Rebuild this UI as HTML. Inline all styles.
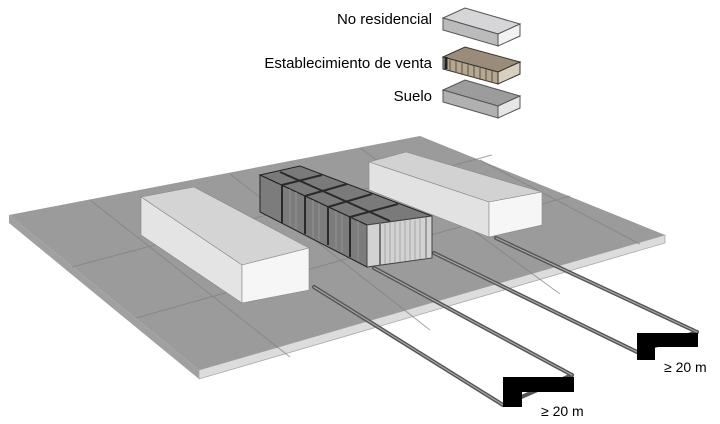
<!DOCTYPE html>
<html><head><meta charset="utf-8"><style>
html,body{margin:0;padding:0;background:#fff;}
svg{display:block}
text{font-family:"Liberation Sans",sans-serif;}
</style></head><body>
<svg width="720" height="424" viewBox="0 0 720 424" xmlns="http://www.w3.org/2000/svg">
<!-- legend -->
<g font-size="15" fill="#000" text-anchor="end">
<text x="432" y="24">No residencial</text>
<text x="432" y="68">Establecimiento de venta</text>
<text x="432" y="101">Suelo</text>
</g>
<polygon points="443,18 465,8 520,24 498,34" fill="#d6d6d8" stroke="#555" stroke-width="1"/>
<polygon points="443,18 498,34 498,46 443,30" fill="#bbb" stroke="#555" stroke-width="1"/>
<polygon points="498,34 520,24 520,36 498,46" fill="#f2f2f2" stroke="#555" stroke-width="1"/>
<polygon points="443,57 465,47 520,62 498,72" fill="#9a8c78" stroke="#333"/>
<polygon points="443,57 498,72 498,84 443,69" fill="#b5a890" stroke="#333"/>
<polygon points="498,72 520,62 520,74 498,84" fill="#d8cfbf" stroke="#333"/>
<g stroke="#6a5c48" stroke-width="1.2">
<line x1="450" y1="60" x2="450" y2="71"/><line x1="456" y1="61" x2="456" y2="73"/><line x1="462" y1="63" x2="462" y2="75"/><line x1="468" y1="64" x2="468" y2="76"/><line x1="474" y1="66" x2="474" y2="78"/><line x1="480" y1="68" x2="480" y2="80"/><line x1="486" y1="69" x2="486" y2="81"/><line x1="492" y1="71" x2="492" y2="83"/>
</g>
<line x1="446" y1="57" x2="446" y2="69" stroke="#222" stroke-width="3"/>
<polygon points="443,90 465,80 520,96 498,106" fill="#9c9c9c" stroke="#555"/>
<polygon points="443,90 498,106 498,118 443,102" fill="#b0b0b0" stroke="#555"/>
<polygon points="498,106 520,96 520,108 498,118" fill="#e6e6e6" stroke="#555"/>

<!-- plate -->
<polygon points="9,215 9,223 199,379 199,370" fill="#a0a0a0"/>
<polygon points="199,370 665,235 665,243 199,379" fill="#dcdcdc" stroke="#aaa" stroke-width="0.8"/>
<polygon points="9,215 420,136 665,235 199,370" fill="#9b9b9b"/>
<g stroke="#7f7f7f" stroke-width="1" opacity="0.7" fill="none">
<line x1="72" y1="267" x2="492" y2="155"/>
<line x1="136" y1="318" x2="570" y2="196"/>
<line x1="90" y1="200" x2="290" y2="357"/>
<line x1="230" y1="174" x2="430" y2="330"/>
<line x1="360" y1="148" x2="560" y2="294"/>
<line x1="480" y1="160" x2="640" y2="244"/>
</g>
<!-- cables -->
<g fill="none" stroke-linecap="round">
<g stroke="#555" stroke-width="4">
<polyline points="314,287 503,405"/>
<polyline points="374,268 572,375"/>
<polyline points="434,253 637,352"/>
<polyline points="496,238 697,332"/>
<polyline points="503,405 572,375"/>
<polyline points="637,352 697,332"/>
</g>
<g stroke="#a8a8a8" stroke-width="1.2">
<polyline points="314,287 503,405"/>
<polyline points="374,268 572,375"/>
<polyline points="434,253 637,352"/>
<polyline points="496,238 697,332"/>
</g>
</g>
<path d="M503,377 H574 V392 H522 V407 H503 Z" fill="#000"/>
<path d="M637,333 H698 V347 H655 V360 H637 Z" fill="#000"/>
<text x="541" y="416" font-size="14">≥ 20 m</text>
<text x="664" y="372" font-size="14">≥ 20 m</text>

<!-- left box -->
<polygon points="141,197 194,187 309,248 242,265" fill="#d4d4d4" stroke="#888" stroke-width="0.6"/>
<polygon points="141,197 242,265 242,303 141,235" fill="#e4e4e4" stroke="#888" stroke-width="0.6"/>
<polygon points="242,265 309,248 309,290 242,303" fill="#f6f6f6" stroke="#888" stroke-width="0.6"/>
<!-- right box -->
<polygon points="369,162 406,152 542,192 489,202" fill="#d2d2d2" stroke="#888" stroke-width="0.6"/>
<polygon points="369,162 489,202 489,237 369,190" fill="#e2e2e2" stroke="#888" stroke-width="0.6"/>
<polygon points="489,202 542,192 542,225 489,237" fill="#f6f6f6" stroke="#888" stroke-width="0.6"/>

<!-- container block -->
<polygon points="260,175 300,166 432,216 367,225" fill="#7a7a7a" stroke="#222"/>
<polygon points="260,175 367,225 367,267 260,212" fill="#7c7c7c" stroke="#222"/>
<polygon points="367,225 432,216 432,258 367,267" fill="#d2d2d2" stroke="#444"/>
<g stroke="#2a2a2a" stroke-width="2">
<line x1="282" y1="185" x2="322" y2="175"/>
<line x1="305" y1="196" x2="347" y2="184"/>
<line x1="328" y1="207" x2="372" y2="194"/>
<line x1="350" y1="217" x2="398" y2="204"/>
<line x1="280" y1="172" x2="390" y2="221"/>
<line x1="282" y1="185" x2="282" y2="223"/>
<line x1="305" y1="196" x2="305" y2="234"/>
<line x1="328" y1="207" x2="328" y2="245"/>
<line x1="350" y1="217" x2="350" y2="257"/>
</g>
<g stroke="#999" stroke-width="0.8">
<line x1="290" y1="189" x2="290" y2="226"/><line x1="296" y1="192" x2="296" y2="229"/>
<line x1="313" y1="200" x2="313" y2="238"/><line x1="319" y1="203" x2="319" y2="241"/>
<line x1="336" y1="211" x2="336" y2="249"/><line x1="342" y1="214" x2="342" y2="252"/>
<line x1="358" y1="221" x2="358" y2="261"/>
</g>
<g stroke="#9a9a9a" stroke-width="0.8">
<line x1="385" y1="224" x2="385" y2="264"/><line x1="390" y1="223" x2="390" y2="263"/><line x1="395" y1="222" x2="395" y2="262"/><line x1="400" y1="222" x2="400" y2="262"/><line x1="405" y1="221" x2="405" y2="261"/><line x1="410" y1="220" x2="410" y2="260"/><line x1="415" y1="220" x2="415" y2="260"/><line x1="420" y1="219" x2="420" y2="259"/>
</g>
<line x1="380" y1="224" x2="380" y2="266" stroke="#555" stroke-width="1.5"/>
<line x1="426" y1="217" x2="426" y2="259" stroke="#777" stroke-width="1.2"/>
</svg>
</body></html>
